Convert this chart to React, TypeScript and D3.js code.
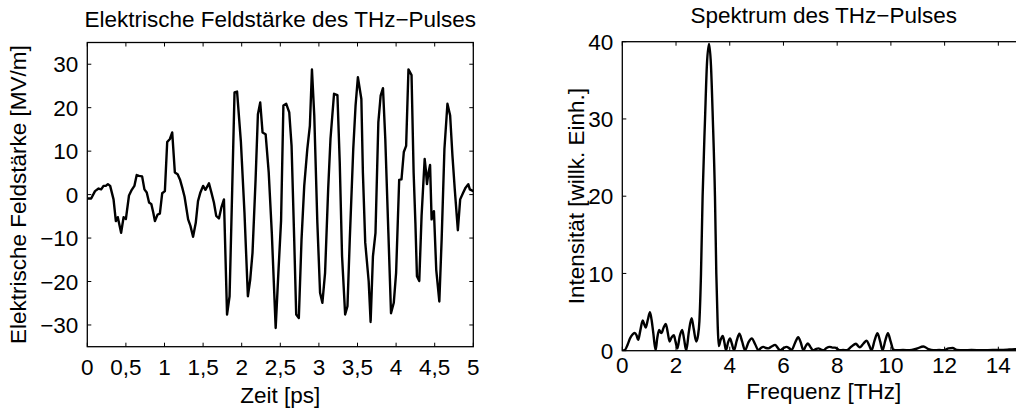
import React from "react";
import * as d3 from "d3";

// ---------- Data ----------
const timePs = [
  0.0, 0.05, 0.1, 0.146, 0.18, 0.21, 0.24, 0.267, 0.296, 0.34, 0.37, 0.395, 0.438, 0.47, 0.5, 0.54, 0.576, 0.61, 0.64, 0.67,
  0.71, 0.74, 0.77, 0.8, 0.83, 0.855, 0.876, 0.91, 0.94, 0.97, 1.005, 1.035, 1.07, 1.1, 1.134, 1.17, 1.2, 1.23, 1.26,
  1.306, 1.336, 1.37, 1.405, 1.434, 1.465, 1.5, 1.53, 1.576, 1.607, 1.64, 1.67, 1.705, 1.736, 1.77, 1.81, 1.843, 1.877,
  1.907, 1.94, 1.99, 2.036, 2.08, 2.11, 2.14, 2.18, 2.21, 2.24, 2.27, 2.31, 2.35, 2.39, 2.44, 2.475, 2.51, 2.54, 2.577,
  2.616, 2.646, 2.68, 2.706, 2.74, 2.775, 2.81, 2.85, 2.883, 2.91, 2.94, 2.98, 3.015, 3.045, 3.08, 3.12, 3.15, 3.196,
  3.24, 3.27, 3.3, 3.34, 3.37, 3.4, 3.445, 3.475, 3.505, 3.55, 3.57, 3.6, 3.645, 3.67, 3.7, 3.733, 3.77, 3.8, 3.83,
  3.86, 3.9, 3.934, 3.97, 4.0, 4.04, 4.07, 4.1, 4.13, 4.16, 4.2, 4.227, 4.25, 4.27, 4.3, 4.33, 4.37, 4.386, 4.4, 4.42,
  4.44, 4.46, 4.49, 4.52, 4.56, 4.59, 4.626, 4.665, 4.7, 4.73, 4.76, 4.8, 4.83, 4.87, 4.9, 4.935, 4.955, 5.0,
];
const fieldMVm = [
  -0.9, -0.9, 0.8, 1.4, 1.2, 2.0, 2.0, 2.4, 2.0, -1.1, -6.1, -5.2, -8.8, -5.2, -5.6, -0.2, 1.1, 2.0, 4.5, 4.3,
  4.2, 1.2, 0.5, -1.8, -2.2, -4.2, -6.1, -4.6, -4.4, 0.3, 0.8, 12.1, 12.8, 14.3, 5.1, 4.7, 3.5, 1.6, -0.5,
  -5.7, -7.2, -9.7, -6.5, -1.5, 0.5, 2.0, 1.1, 2.6, 0.5, -1.8, -4.9, -5.5, -3.0, -1.1, -27.6, -23.4, 1.2,
  23.5, 23.7, 12.0, -4.2, -23.4, -19.6, -13.4, 3.5, 18.5, 21.2, 14.3, 13.9, 5.1, -8.8, -30.7, -18.0, -6.0, 20.5, 20.9,
  18.9, 11.2, -10.3, -27.6, -28.4, -10.3, 2.0, 10.5, 15.8, 28.8, 18.2, -6.5, -22.6, -24.9, -18.0, 1.2, 12.8, 23.2,
  22.9, 7.4, -14.2, -27.6, -25.7, -10.3, 10.5, 20.5, 27.0, 22.0, 5.0, -11.0, -20.0, -29.3, -14.2, -8.8, 16.6, 22.8, 24.5,
  12.8, -8.8, -27.3, -24.9, -18.0, 3.4, 3.5, 9.8, 11.2, 28.8, 27.5, 5.1, -6.5, -18.8, -19.9, -4.9, 8.2, 5.5, 2.4, 5.1,
  6.8, -5.7, -3.8, -17.3, -24.6, -10.3, 10.5, 20.9, 18.2, 8.9, 1.2, -8.2, -1.1, 0.5, 1.6, 2.4, 1.2, 0.8,
];

const freqTHz = [
  0, 0.1, 0.2, 0.29, 0.38, 0.46, 0.53, 0.59, 0.67, 0.76, 0.82, 0.87, 0.95, 1.03, 1.09, 1.15, 1.24, 1.3, 1.37, 1.42,
  1.46, 1.54, 1.62, 1.69, 1.76, 1.83, 1.92, 1.98, 2.05, 2.14, 2.23, 2.3, 2.38, 2.48, 2.58, 2.66, 2.75, 2.82, 2.87,
  2.93, 2.99, 3.08, 3.15, 3.23, 3.3, 3.37, 3.45, 3.5, 3.55, 3.59, 3.66, 3.74, 3.8, 3.86, 3.94, 4.01, 4.08, 4.16,
  4.26, 4.36, 4.46, 4.57, 4.7, 4.82, 4.95, 5.07, 5.16, 5.25, 5.35, 5.44, 5.56, 5.69, 5.78, 5.87, 6.0, 6.12, 6.22,
  6.31, 6.43, 6.55, 6.65, 6.74, 6.83, 6.91, 7.0, 7.1, 7.2, 7.3, 7.4, 7.49, 7.6, 7.72, 7.82, 7.92, 8.02, 8.1, 8.22,
  8.35, 8.52, 8.7, 8.78, 8.85, 8.97, 9.1, 9.19, 9.28, 9.39, 9.5, 9.6, 9.69, 9.79, 9.89, 9.99, 10.09, 10.22, 10.45,
  10.7, 10.95, 11.21, 11.4, 11.58, 11.8, 11.95, 12.15, 12.3, 12.45, 12.7, 13.0, 13.4, 13.8, 14.06, 14.4, 14.62, 15.0,
];
const intensity = [
  0, 0.1, 0.8, 1.6, 2.1, 2.3, 2.0, 1.4, 2.6, 3.9, 3.4, 3.0, 4.0, 5.0, 4.0, 2.4, 0.05, 1.6, 2.7, 2.4,
  2.3, 3.0, 3.45, 2.4, 1.2, 1.7, 2.0, 1.2, 0.3, 1.9, 2.7, 1.5, 0.05, 2.5, 4.2, 2.8, 1.2, 2.0, 3.8,
  10, 20, 30, 37, 39.7, 37, 30, 20, 10, 3.5, 0.6, 1.4, 1.9, 1.1, 0.05, 1.1, 1.6, 0.9, 0.05,
  1.3, 2.2, 1.2, 0.05, 1.1, 1.6, 0.8, 0.05, 0.35, 0.5, 0.35, 0.3, 0.55, 0.75, 0.4, 0.05, 0.35, 0.5, 0.3,
  0.1, 1.0, 1.75, 1.0, 0.05, 0.6, 0.95, 0.5, 0.05, 0.2, 0.3, 0.15, 0.05, 0.35, 0.5, 0.4, 0.4, 0.2, 0.05, 0.1,
  0.05, 0.5, 0.9, 0.6, 0.45, 0.9, 1.3, 0.7, 0.05, 1.3, 2.25, 1.2, 0.05, 1.3, 2.25, 1.2, 0.15, 0.05, 0.1,
  0.05, 0.25, 0.55, 0.2, 0.05, 0.1, 0.05, 0.3, 0.35, 0.1, 0.05, 0.1, 0.05, 0.1, 0.1, 0.15, 0.2, 0.25,
];

const leftXTicks = [0, 0.5, 1, 1.5, 2, 2.5, 3, 3.5, 4, 4.5, 5];
const leftYTicks = [-30, -20, -10, 0, 10, 20, 30];
const rightXTicks = [0, 2, 4, 6, 8, 10, 12, 14];
const rightYTicks = [0, 10, 20, 30, 40];

const leftTitle = "Elektrische Feldstärke des THz\u2212Pulses";
const leftXLabel = "Zeit [ps]";
const leftYLabel = "Elektrische Feldstärke [MV/m]";
const rightTitle = "Spektrum des THz\u2212Pulses";
const rightXLabel = "Frequenz [THz]";
const rightYLabel = "Intensität [willk. Einh.]";

// ---------- Layout ----------
const W = 1016;
const H = 409;
const FONT = "'Liberation Sans', Arial, Helvetica, sans-serif";
const FS = 22.5;
const TICK = 4;

const fmtDE = (v: number) => {
  const s = String(v).replace(".", ",");
  return v < 0 ? "\u2212" + s.slice(1) : s;
};

function Frame({ x0, x1, y0, y1 }: { x0: number; x1: number; y0: number; y1: number }) {
  return (
    <rect x={x0} y={y0} width={x1 - x0} height={y1 - y0} fill="none" stroke="#000" strokeWidth={1.3} />
  );
}

export default function App() {
  // Left axes
  const L = { x0: 87.3, x1: 473.3, y0: 42.5, y1: 346.7 };
  const lx = d3.scaleLinear().domain([0, 5]).range([L.x0, L.x1]);
  const ly = d3.scaleLinear().domain([-35, 35]).range([L.y1, L.y0]);
  const lineL = d3
    .line<number>()
    .x((_, i) => lx(timePs[i]))
    .y((d) => ly(d))
    .curve(d3.curveLinear);

  // Right axes
  const R = { x0: 622.3, x1: 622.3 + 15 * 26.86, y0: 41.7, y1: 350.7 };
  const rx = d3.scaleLinear().domain([0, 15]).range([R.x0, R.x1]);
  const ry = d3.scaleLinear().domain([0, 40]).range([R.y1, R.y0]);
  const lineR = d3
    .line<number>()
    .x((_, i) => rx(freqTHz[i]))
    .y((d) => ry(d))
    .curve(d3.curveMonotoneX);

  const textStyle = { fontFamily: FONT, fontSize: FS, fill: "#000" } as const;

  return (
    <svg
      width={W}
      height={H}
      viewBox={`0 0 ${W} ${H}`}
      style={{ position: "absolute", left: 0, top: 0, background: "#fff" }}
    >
      <rect x={0} y={0} width={W} height={H} fill="#fff" />

      {/* ---------- Left plot ---------- */}
      <g>
        <clipPath id="clipL">
          <rect x={L.x0} y={L.y0} width={L.x1 - L.x0} height={L.y1 - L.y0} />
        </clipPath>
        <path
          d={lineL(fieldMVm) || ""}
          fill="none"
          stroke="#000"
          strokeWidth={2.4}
          strokeLinejoin="round"
          clipPath="url(#clipL)"
        />
        <Frame {...L} />
        {leftXTicks.map((t) => (
          <g key={"lx" + t}>
            <line x1={lx(t)} x2={lx(t)} y1={L.y1} y2={L.y1 - TICK} stroke="#000" strokeWidth={1} />
            <line x1={lx(t)} x2={lx(t)} y1={L.y0} y2={L.y0 + TICK} stroke="#000" strokeWidth={1} />
            <text x={lx(t)} y={375} textAnchor="middle" {...textStyle}>
              {fmtDE(t)}
            </text>
          </g>
        ))}
        {leftYTicks.map((v) => (
          <g key={"ly" + v}>
            <line x1={L.x0} x2={L.x0 + TICK} y1={ly(v)} y2={ly(v)} stroke="#000" strokeWidth={1} />
            <line x1={L.x1} x2={L.x1 - TICK} y1={ly(v)} y2={ly(v)} stroke="#000" strokeWidth={1} />
            <text x={L.x0 - 9} y={ly(v)} dy="0.36em" textAnchor="end" {...textStyle}>
              {fmtDE(v)}
            </text>
          </g>
        ))}
        <text x={(L.x0 + L.x1) / 2} y={26.5} textAnchor="middle" {...textStyle}>
          {leftTitle}
        </text>
        <text x={(L.x0 + L.x1) / 2} y={403} textAnchor="middle" {...textStyle}>
          {leftXLabel}
        </text>
        <text
          transform={`translate(25.5, ${(L.y0 + L.y1) / 2}) rotate(-90)`}
          textAnchor="middle"
          {...textStyle}
        >
          {leftYLabel}
        </text>
      </g>

      {/* ---------- Right plot ---------- */}
      <g>
        <clipPath id="clipR">
          <rect x={R.x0} y={R.y0 - 2} width={R.x1 - R.x0} height={R.y1 - R.y0 + 2} />
        </clipPath>
        <path
          d={lineR(intensity) || ""}
          fill="none"
          stroke="#000"
          strokeWidth={2.4}
          strokeLinejoin="round"
          clipPath="url(#clipR)"
        />
        <Frame {...R} />
        {rightXTicks.map((t) => (
          <g key={"rx" + t}>
            <line x1={rx(t)} x2={rx(t)} y1={R.y1} y2={R.y1 - TICK} stroke="#000" strokeWidth={1} />
            <line x1={rx(t)} x2={rx(t)} y1={R.y0} y2={R.y0 + TICK} stroke="#000" strokeWidth={1} />
            <text x={rx(t)} y={373} textAnchor="middle" {...textStyle}>
              {fmtDE(t)}
            </text>
          </g>
        ))}
        {rightYTicks.map((v) => (
          <g key={"ry" + v}>
            <line x1={R.x0} x2={R.x0 + TICK} y1={ry(v)} y2={ry(v)} stroke="#000" strokeWidth={1} />
            <line x1={R.x1} x2={R.x1 - TICK} y1={ry(v)} y2={ry(v)} stroke="#000" strokeWidth={1} />
            <text x={R.x0 - 9} y={ry(v)} dy="0.36em" textAnchor="end" {...textStyle}>
              {fmtDE(v)}
            </text>
          </g>
        ))}
        <text x={(R.x0 + R.x1) / 2} y={22.7} textAnchor="middle" {...textStyle}>
          {rightTitle}
        </text>
        <text x={(R.x0 + R.x1) / 2} y={399} textAnchor="middle" {...textStyle}>
          {rightXLabel}
        </text>
        <text
          transform={`translate(584, ${(R.y0 + R.y1) / 2}) rotate(-90)`}
          textAnchor="middle"
          {...textStyle}
        >
          {rightYLabel}
        </text>
      </g>
    </svg>
  );
}
